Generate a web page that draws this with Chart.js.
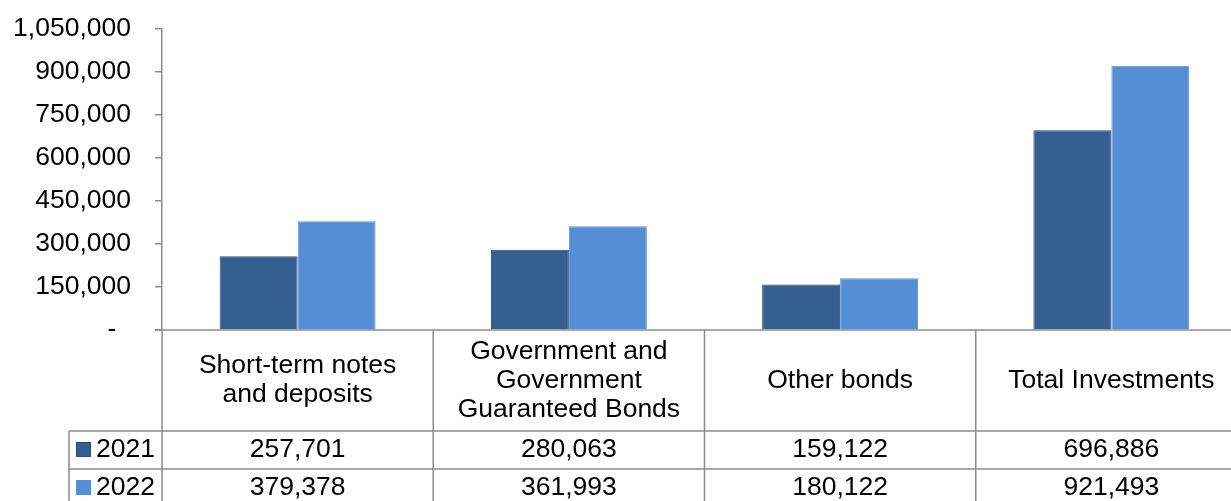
<!DOCTYPE html>
<html>
<head>
<meta charset="utf-8">
<script src="https://cdn.jsdelivr.net/npm/chart.js@4/dist/chart.umd.min.js"></script>
<style>
  html, body { margin: 0; padding: 0; overflow: hidden; background: #fff; }
  #wrap { width: 1250px; height: 510px; }
</style>
</head>
<body>
<div id="wrap"><canvas id="barChart" width="1250" height="510"></canvas></div>
<script>
// data
const categories = [
    ['Short-term notes', 'and deposits'],
    ['Government and', 'Government', 'Guaranteed Bonds'],
    ['Other bonds'],
    ['Total Investments'],
];
const seriesNames = ['2021', '2022'];
const values2021 = [257701, 280063, 159122, 696886];
const values2022 = [379378, 361993, 180122, 921493];
const yTicks = [0, 150000, 300000, 450000, 600000, 750000, 900000, 1050000];

const colors = ['#365f91', '#558ed5'];
const borders = ['#2a4b74', '#5b93d8'];
const lineColor = '#8c8c8c';
const FONT = '"Liberation Sans", Arial, sans-serif';
const FONT_SIZE = 26.5;

function fmt(v) {
    return v.toLocaleString('en-US');
}

// draws the data table under the plot, positioned from the x scale
const dataTable = {
    id: 'dataTable',
    afterDraw(chart) {
        const ctx = chart.ctx;
        const x = chart.scales.x;
        const area = chart.chartArea;
        const n = categories.length;
        const colW = (area.right - area.left) / n;
        const top = area.bottom;
        const headBottom = top + 101;
        const rowH = 38;
        const legendLeft = 69;
        const bottom = headBottom + rowH * 2 + 5;

        ctx.save();
        ctx.strokeStyle = lineColor;
        ctx.lineWidth = 1.5;
        ctx.beginPath();
        // top line (x axis)
        ctx.moveTo(area.left - 7, top);
        ctx.lineTo(chart.width, top);
        // row lines
        for (let r = 0; r < 2; r++) {
            const yy = headBottom + rowH * r;
            ctx.moveTo(legendLeft, yy);
            ctx.lineTo(chart.width, yy);
        }
        // verticals
        for (let i = 0; i <= n; i++) {
            const xx = x.getPixelForValue(i) - colW / 2;
            ctx.moveTo(xx, top);
            ctx.lineTo(xx, bottom);
        }
        ctx.moveTo(legendLeft, headBottom);
        ctx.lineTo(legendLeft, bottom);
        ctx.stroke();

        ctx.fillStyle = '#000';
        ctx.font = FONT_SIZE + 'px ' + FONT;
        ctx.textAlign = 'center';
        ctx.textBaseline = 'middle';
        const headMid = (top + headBottom) / 2;
        categories.forEach((lines, i) => {
            const cx = x.getPixelForValue(i);
            const lh = 29;
            lines.forEach((t, k) => {
                ctx.fillText(t, cx, headMid + (k - (lines.length - 1) / 2) * lh);
            });
        });

        const rows = [values2021, values2022];
        rows.forEach((vals, r) => {
            const cy = headBottom + rowH * r + rowH / 2;
            vals.forEach((v, i) => {
                ctx.fillStyle = '#000';
                ctx.textAlign = 'center';
                ctx.fillText(fmt(v), x.getPixelForValue(i), cy);
            });
            // legend key
            ctx.fillStyle = colors[r];
            ctx.fillRect(legendLeft + 7, cy - 8, 15, 15);
            if (r === 0) {
                ctx.strokeStyle = borders[0];
                ctx.lineWidth = 1;
                ctx.strokeRect(legendLeft + 7.5, cy - 7.5, 14, 14);
            }
            ctx.fillStyle = '#000';
            ctx.textAlign = 'left';
            ctx.fillText(seriesNames[r], legendLeft + 27, cy);
        });
        ctx.restore();
    }
};

new Chart(document.getElementById('barChart'), {
    type: 'bar',
    data: {
        labels: categories.map(c => c.join(' ')),
        datasets: [
            {
                label: seriesNames[0],
                data: values2021,
                backgroundColor: colors[0],
                borderColor: borders[0],
                borderWidth: 1,
            },
            {
                label: seriesNames[1],
                data: values2022,
                backgroundColor: colors[1],
                borderColor: borders[1],
                borderWidth: 1,
            },
        ],
    },
    options: {
        responsive: false,
        animation: false,
        events: [],
        layout: { padding: { top: 29, bottom: 180, left: 0, right: 3 } },
        categoryPercentage: 0.575,
        barPercentage: 1,
        plugins: {
            legend: { display: false },
            tooltip: { enabled: false },
        },
        scales: {
            x: { display: false },
            y: {
                min: 0,
                max: yTicks[yTicks.length - 1],
                afterBuildTicks(scale) {
                    scale.ticks = yTicks.map(v => ({ value: v }));
                },
                afterFit(scale) {
                    scale.width = 162;
                    scale.paddingTop = 0;
                    scale.paddingBottom = 0;
                },
                ticks: {
                    color: '#000',
                    font: { family: FONT, size: FONT_SIZE },
                    padding: 24,
                    callback: v => (v === 0 ? '-  ' : fmt(v)),
                },
                grid: {
                    drawOnChartArea: false,
                    drawTicks: true,
                    tickLength: 7,
                    color: lineColor,
                    lineWidth: 1.5,
                },
                border: { display: true, color: lineColor, width: 1.5 },
            },
        },
    },
    plugins: [dataTable],
});
</script>
</body>
</html>
